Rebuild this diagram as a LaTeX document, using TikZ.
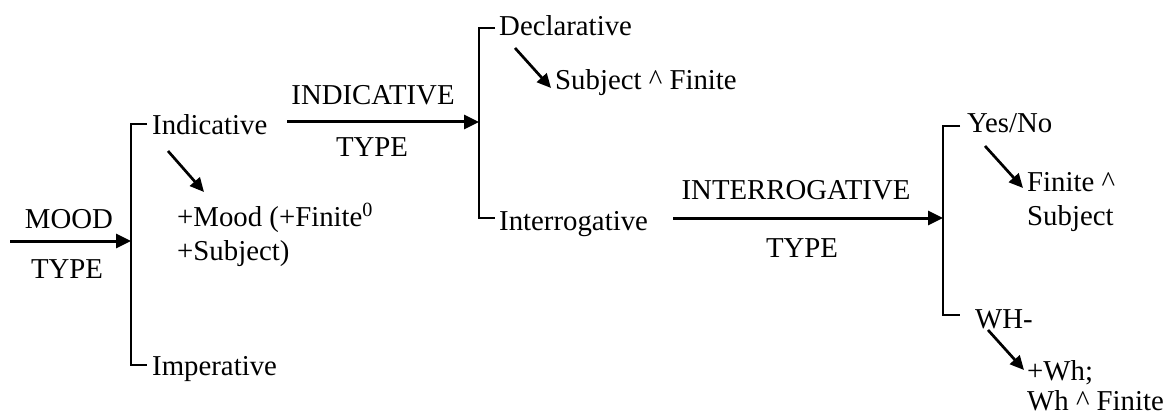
\documentclass[tikz,border=0pt]{standalone}
\usepackage{fontspec}
\setmainfont{Liberation Serif}
\usetikzlibrary{arrows.meta}
\begin{document}
\begin{tikzpicture}[x=1pt,y=-1pt,
  font=\fontsize{28.8}{34}\selectfont,
  lbl/.style={anchor=base west,inner sep=0pt},
  arrlbl/.style={anchor=base,inner sep=0pt},
  mainarr/.style={line width=3pt,-{Triangle[length=15pt,width=14pt]}},
  diagarr/.style={line width=2.7pt,-{Triangle[length=14pt,width=13pt]}},
  brk/.style={line width=2pt}]
\useasboundingbox (0,0) rectangle (1166,414);

% ---- level 1
\node[arrlbl] (mood) at (69,228) {MOOD};
\node[arrlbl] (type1) at (67,278) {TYPE};
\coordinate (a1s) at (10,241);
\coordinate (b1m) at (131,241);
\coordinate (b1t) at (131,124);
\coordinate (b1b) at (131,365);
\coordinate (b1tt) at (147,124);
\coordinate (b1bt) at (147,365);
\draw[mainarr] (a1s) -- (b1m);
\draw[brk] (b1tt) -- (b1t) -- (b1b) -- (b1bt);

\node[lbl] (indic) at (152,135) {Indicative};
\node[lbl] (imper) at (152,375) {Imperative};
\node[lbl] (moodf) at (177,226) {+Mood (+Finite\textsuperscript{0}};
\node[lbl] (subj1) at (177,260) {+Subject)};
\coordinate (d1s) at (168,151);
\coordinate (d1e) at (204,192);
\draw[diagarr] (d1s) -- (d1e);

% ---- level 2
\node[arrlbl] (indcap) at (373,105) {INDICATIVE};
\node[arrlbl] (type2) at (372,157) {TYPE};
\coordinate (a2s) at (287,122);
\coordinate (b2m) at (479,122);
\draw[mainarr] (a2s) -- (b2m);
\coordinate (b2t) at (479,28);
\coordinate (b2b) at (479,218);
\coordinate (b2tt) at (495,28);
\coordinate (b2bt) at (495,218);
\draw[brk] (b2tt) -- (b2t) -- (b2b) -- (b2bt);

\node[lbl] (decl) at (499,36) {Declarative};
\node[lbl] (sf) at (555,90) {Subject \textasciicircum\ Finite};
\coordinate (d2s) at (515,48);
\coordinate (d2e) at (551,88);
\draw[diagarr] (d2s) -- (d2e);
\node[lbl] (interr) at (499,230) {Interrogative};

% ---- level 3
\node[arrlbl] (intcap) at (796,200) {INTERROGATIVE};
\node[arrlbl] (type3) at (802,257) {TYPE};
\coordinate (a3s) at (673,218);
\coordinate (b3m) at (943,218);
\draw[mainarr] (a3s) -- (b3m);
\coordinate (b3t) at (943,126);
\coordinate (b3b) at (943,315);
\coordinate (b3tt) at (960,126);
\coordinate (b3bt) at (960,315);
\draw[brk] (b3tt) -- (b3t) -- (b3b) -- (b3bt);

\node[lbl] (yesno) at (967,133) {Yes/No};
\node[lbl] (fin1) at (1027,192) {Finite \textasciicircum};
\node[lbl] (subj3) at (1027,225) {Subject};
\coordinate (d3s) at (985,146);
\coordinate (d3e) at (1023,188);
\draw[diagarr] (d3s) -- (d3e);

\node[lbl] (wh) at (975,328) {WH-};
\node[lbl] (pwh) at (1027,380) {+Wh;};
\node[lbl] (whf) at (1027,410) {Wh \textasciicircum\ Finite};
\coordinate (d4s) at (988,330);
\coordinate (d4e) at (1024,370);
\draw[diagarr] (d4s) -- (d4e);
\end{tikzpicture}
\end{document}
